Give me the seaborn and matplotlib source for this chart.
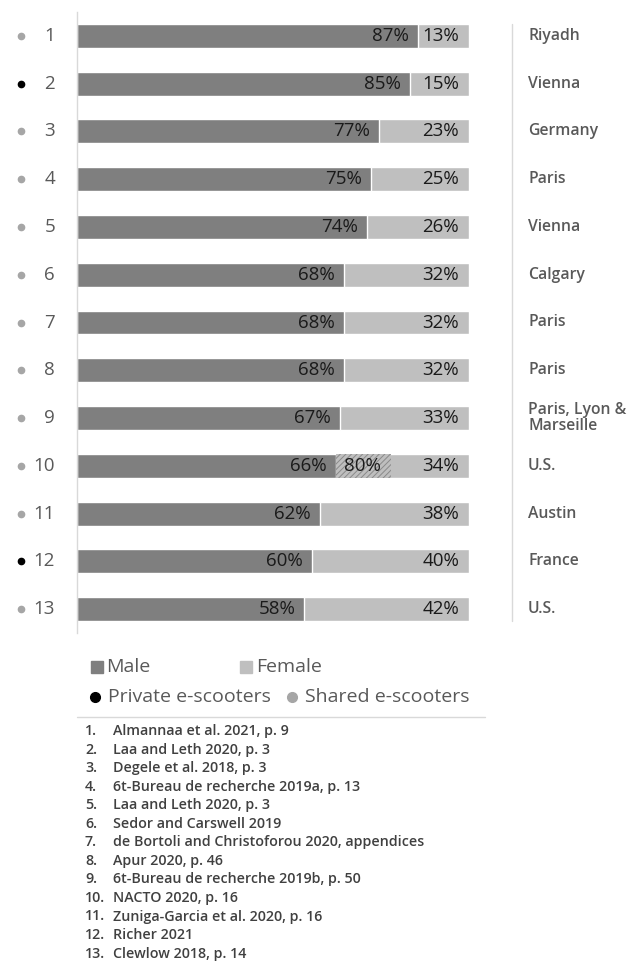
import numpy as np
import pandas as pd
import matplotlib.pyplot as plt
import seaborn as sns
from matplotlib.lines import Line2D
from matplotlib.transforms import blended_transform_factory

sns.set_theme(style='white')
plt.rcParams['font.family'] = ['Open Sans', 'DejaVu Sans']
plt.rcParams['hatch.linewidth'] = 0.7

# 数据
rows = [str(i) for i in range(1, 14)]
male = [87, 85, 77, 75, 74, 68, 68, 68, 67, 66, 62, 60, 58]
female = [13, 15, 23, 25, 26, 32, 32, 32, 33, 34, 38, 40, 42]
alt_male = [np.nan] * 9 + [80] + [np.nan] * 3
places = ['Riyadh', 'Vienna', 'Germany', 'Paris', 'Vienna', 'Calgary', 'Paris', 'Paris',
          'Paris, Lyon &\nMarseille', 'U.S.', 'Austin', 'France', 'U.S.']
scooter = ['Shared', 'Private', 'Shared', 'Shared', 'Shared', 'Shared', 'Shared', 'Shared',
           'Shared', 'Shared', 'Shared', 'Private', 'Shared']
refs = ['Almannaa et al. 2021, p. 9', 'Laa and Leth 2020, p. 3', 'Degele et al. 2018, p. 3',
        '6t-Bureau de recherche 2019a, p. 13', 'Laa and Leth 2020, p. 3', 'Sedor and Carswell 2019',
        'de Bortoli and Christoforou 2020, appendices', 'Apur 2020, p. 46',
        '6t-Bureau de recherche 2019b, p. 50', 'NACTO 2020, p. 16', 'Zuniga-Garcia et al. 2020, p. 16',
        'Richer 2021', 'Clewlow 2018, p. 14']

df = pd.DataFrame({'row': rows, 'male': male, 'female': female, 'alt': alt_male,
                   'place': places, 'type': scooter})
df['total'] = df['male'] + df['female']

W, H = 642, 967
fig = plt.figure(figsize=(W / 100, H / 100), dpi=100)
ax = fig.add_axes([77 / W, 1 - 633 / H, 392 / W, 621 / H])

dark, light = '#7f7f7f', '#bfbfbf'
sns.barplot(data=df, y='row', x='total', orient='h', color=light, saturation=1,
            width=0.5, ax=ax)
sns.barplot(data=df, y='row', x='male', orient='h', color=dark, saturation=1,
            width=0.5, ax=ax)

# 另一来源的数值(斜线)
m = df['alt'].notna()
ax.barh(df.index[m], df.loc[m, 'alt'] - df.loc[m, 'male'], left=df.loc[m, 'male'],
        height=0.5, facecolor=light, edgecolor='#8a8a8a', hatch='//////', linewidth=0)

ax.set_xlim(0, 100)
ax.set_ylim(12.5, -0.5)
ax.set_xlabel('')
ax.set_ylabel('')
ax.set_xticks([])
ax.set_yticks([])
for s in ['top', 'right', 'bottom']:
    ax.spines[s].set_visible(False)
ax.spines['left'].set_color('#d9d9d9')
ax.spines['left'].set_linewidth(1)

txt = '#1a1a1a'
gray = '#595959'
fs = 13.5
for i, r in df.iterrows():
    ax.text(r['male'] - 2.3, i, f"{r['male']}%", ha='right', va='center', fontsize=fs, color=txt)
    ax.text(r['total'] - 2.5, i, f"{r['female']}%", ha='right', va='center', fontsize=fs, color=txt)
    if not np.isnan(r['alt']):
        ax.text(r['alt'] - 2.5, i, f"{int(r['alt'])}%", ha='right', va='center', fontsize=fs, color=txt)

tr = blended_transform_factory(ax.transAxes, ax.transData)
for i, r in df.iterrows():
    c = 'black' if r['type'] == 'Private' else '#a6a6a6'
    ax.plot([-56 / 392], [i], marker='o', markersize=4.5, color=c, transform=tr, clip_on=False)
    ax.text(-22 / 392, i, r['row'], ha='right', va='center', fontsize=fs, color=gray,
            transform=tr)
    ax.text(451 / 392, i, r['place'], ha='left', va='center', fontsize=11.3, color=gray,
            fontweight='semibold', transform=tr, linespacing=1.05)

ax.plot([435 / 392, 435 / 392], [-0.25, 12.25], color='#d9d9d9', lw=1, transform=tr, clip_on=False)

# 图例
def fy(y):
    return 1 - y / H

lfs = 14
fig.add_artist(Line2D([97 / W], [fy(667)], marker='s', markersize=8, color=dark, lw=0))
fig.text(106 / W, fy(667), 'Male', ha='left', va='center', fontsize=lfs, color=gray)
fig.add_artist(Line2D([246 / W], [fy(667)], marker='s', markersize=8, color=light, lw=0))
fig.text(256 / W, fy(667), 'Female', ha='left', va='center', fontsize=lfs, color=gray)
fig.add_artist(Line2D([95 / W], [fy(697)], marker='o', markersize=7, color='black', lw=0))
fig.text(108 / W, fy(697), 'Private e-scooters', ha='left', va='center', fontsize=lfs, color=gray)
fig.add_artist(Line2D([292 / W], [fy(697)], marker='o', markersize=7, color='#a6a6a6', lw=0))
fig.text(305 / W, fy(697), 'Shared e-scooters', ha='left', va='center', fontsize=lfs, color=gray)

fig.add_artist(Line2D([77 / W, 485 / W], [fy(717), fy(717)], color='#d9d9d9', lw=1))

for k, ref in enumerate(refs):
    y = fy(731 + 18.55 * k)
    fig.text(85 / W, y, f'{k + 1}.', ha='left', va='center', fontsize=10.3, color='#404040',
             fontweight='semibold')
    fig.text(113 / W, y, ref, ha='left', va='center', fontsize=10.3, color='#404040',
             fontweight='semibold')

fig.savefig('out.png', dpi=100)
